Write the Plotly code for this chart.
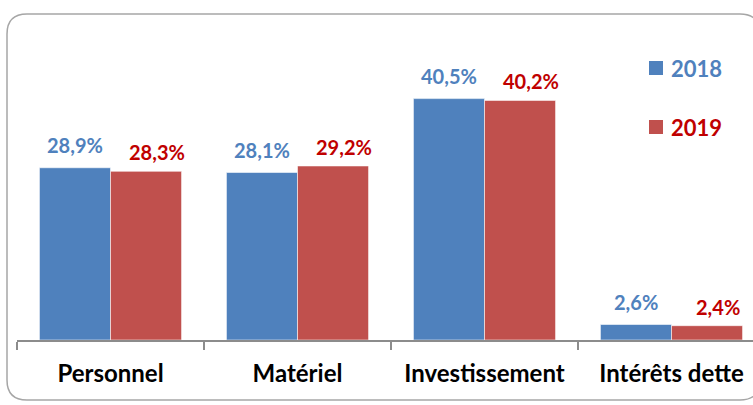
import plotly.graph_objects as go

categories = ["Personnel", "Matériel", "Investissement", "Intérêts dette"]
series_names = ["2018", "2019"]
values_2018 = [28.9, 28.1, 40.5, 2.6]
values_2019 = [28.3, 29.2, 40.2, 2.4]
labels_2018 = ["28,9%", "28,1%", "40,5%", "2,6%"]
labels_2019 = ["28,3%", "29,2%", "40,2%", "2,4%"]

W, H = 753, 405
ML, MR, MT, MB = 17, 0, 40, 65
PW, PH = W - ML - MR, H - MT - MB

BAR_BLUE = "#4F81BD"
BAR_RED = "#C0504D"
TXT_BLUE = "#4F81BD"
TXT_RED = "#C00000"
FONT = "Lato"

fig = go.Figure()
fig.add_trace(go.Bar(x=categories, y=values_2018, name=series_names[0],
                     marker=dict(color=BAR_BLUE, line=dict(color="rgba(255,255,255,0.55)", width=1))))
fig.add_trace(go.Bar(x=categories, y=values_2019, name=series_names[1],
                     marker=dict(color=BAR_RED, line=dict(color="rgba(255,255,255,0.55)", width=1))))

annotations = []
off = 0.19
for i, cat in enumerate(categories):
    annotations.append(dict(x=i - off, y=values_2018[i], xref="x", yref="y", text=labels_2018[i],
                            showarrow=False, yanchor="bottom", yshift=9,
                            font=dict(family=FONT, size=20, color=TXT_BLUE, weight="bold")))
    annotations.append(dict(x=i + off, y=values_2019[i], xref="x", yref="y", text=labels_2019[i],
                            showarrow=False, yanchor="bottom", yshift=5, xshift=11,
                            font=dict(family=FONT, size=20, color=TXT_RED, weight="bold")))


def px(xp):
    return (xp - ML) / PW


def py(yp):
    return (H - MB - yp) / PH


# manual legend
legend_items = [(series_names[0], BAR_BLUE, TXT_BLUE, 68), (series_names[1], BAR_RED, TXT_RED, 127)]
shapes = []
for name, fill, tcol, yc in legend_items:
    shapes.append(dict(type="rect", xref="paper", yref="paper", x0=px(649), x1=px(663),
                       y0=py(yc + 7), y1=py(yc - 7), fillcolor=fill, line=dict(width=0)))
    annotations.append(dict(x=px(669), y=py(yc), xref="paper", yref="paper", text=name,
                            showarrow=False, xanchor="left", yanchor="middle",
                            font=dict(family=FONT, size=22, color=tcol, weight="bold")))

# rounded outer frame
x0, x1, y0, y1, r = 7, 760, 14, 400, 20
path = (f"M {px(x0 + r)},{py(y0)} L {px(x1 - r)},{py(y0)} Q {px(x1)},{py(y0)} {px(x1)},{py(y0 + r)} "
        f"L {px(x1)},{py(y1 - r)} Q {px(x1)},{py(y1)} {px(x1 - r)},{py(y1)} "
        f"L {px(x0 + r)},{py(y1)} Q {px(x0)},{py(y1)} {px(x0)},{py(y1 - r)} "
        f"L {px(x0)},{py(y0 + r)} Q {px(x0)},{py(y0)} {px(x0 + r)},{py(y0)} Z")
shapes.append(dict(type="path", xref="paper", yref="paper", path=path,
                   line=dict(color="#A6A6A6", width=1.5), layer="below"))

fig.update_layout(
    width=W, height=H,
    margin=dict(l=ML, r=MR, t=MT, b=MB),
    paper_bgcolor="white", plot_bgcolor="white",
    barmode="group", bargap=0.24, bargroupgap=0,
    showlegend=False,
    font=dict(family=FONT),
    annotations=annotations,
    shapes=shapes,
    xaxis=dict(type="category", range=[-0.5, -0.5 + PW / 187.0],
               showline=True, linecolor="#8C8C8C", linewidth=1.5,
               ticks="outside", tickson="boundaries", ticklen=8, tickcolor="#8C8C8C", tickwidth=1.5,
               ticklabelstandoff=12,
               tickfont=dict(family=FONT, size=24, color="black", weight="bold"),
               showgrid=False, zeroline=False),
    yaxis=dict(range=[0, PH / 5.96], visible=False, showgrid=False, zeroline=False),
)

fig.write_html("out.html", config={"displayModeBar": False, "staticPlot": True},
               post_script="document.body.style.margin='0';document.body.style.padding='0';")
